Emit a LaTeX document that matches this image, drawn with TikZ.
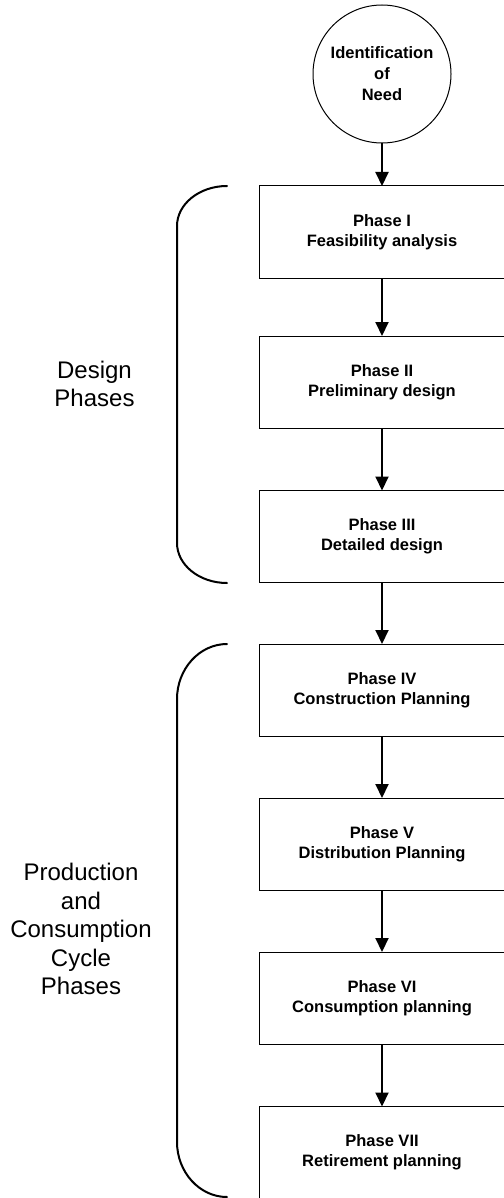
\documentclass[tikz,border=0pt]{standalone}
\usepackage{fontspec}
\setmainfont{Liberation Sans}
\usetikzlibrary{arrows.meta}
\begin{document}
\begin{tikzpicture}[x=1pt,y=-1pt,
  phasebox/.style={draw=black,line width=1pt,rectangle,minimum width=246pt,minimum height=92pt,inner sep=0pt,outer sep=0pt,align=center,font=\fontsize{16.5}{20}\selectfont\bfseries},
  needcircle/.style={draw=black,line width=1pt,circle,minimum size=138pt,inner sep=0pt,outer sep=0pt,align=center,font=\fontsize{16.5}{21}\selectfont\bfseries},
  grouplabel/.style={align=center,font=\fontsize{24}{28.5}\selectfont,inner sep=0pt},
  flowarrow/.style={line width=2pt,-{Triangle[width=13pt,length=14pt]}},
  bracket/.style={line width=2pt,line cap=round}]
\useasboundingbox (0,0) rectangle (503,1198);
\node[needcircle] (need) at (382,74) {Identification\\of\\Need};
\node[phasebox] (p1) at (382,232) {Phase I\\Feasibility analysis};
\node[phasebox] (p2) at (382,382) {Phase II\\Preliminary design};
\node[phasebox] (p3) at (382,536.5) {Phase III\\Detailed design};
\node[phasebox] (p4) at (382,690) {Phase IV\\Construction Planning};
\node[phasebox] (p5) at (382,844) {Phase V\\Distribution Planning};
\node[phasebox] (p6) at (382,998) {Phase VI\\Consumption planning};
\node[phasebox] (p7) at (382,1152.5) {Phase VII\\Retirement planning};
\draw[flowarrow] (need) -- (p1);
\draw[flowarrow] (p1) -- (p2);
\draw[flowarrow] (p2) -- (p3);
\draw[flowarrow] (p3) -- (p4);
\draw[flowarrow] (p4) -- (p5);
\draw[flowarrow] (p5) -- (p6);
\draw[flowarrow] (p6) -- (p7);
% design bracket
\draw[bracket] (227,186) .. controls (199.4,186) and (177,204) .. (177,226)
  -- (177,543) .. controls (177,565) and (199.4,583) .. (227,583);
% production bracket
\draw[bracket] (227,644) .. controls (199.4,644) and (177,669) .. (177,699)
  -- (177,1142) .. controls (177,1172) and (199.4,1197) .. (227,1197);
\node[grouplabel] (design) at (94.5,384) {Design\\Phases};
\node[grouplabel] (prod) at (81,929) {Production\\and\\Consumption\\Cycle\\Phases};
\end{tikzpicture}
\end{document}
